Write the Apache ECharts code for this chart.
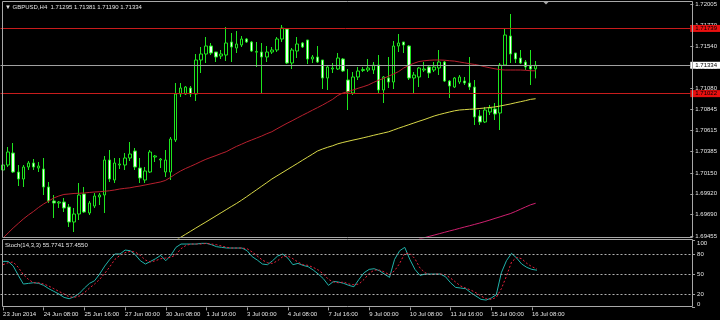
<!DOCTYPE html>
<html><head><meta charset="utf-8">
<script src="https://cdn.jsdelivr.net/npm/echarts@6/dist/echarts.min.js"></script>
<style>html,body{margin:0;padding:0;background:#000;}#c{width:720px;height:320px;}</style>
</head><body><div id="c"></div>
<script>
const symbolName = 'GBPUSD,H4';
const xTickLabels = ['23 Jun 2014','24 Jun 08:00','25 Jun 16:00','27 Jun 00:00','30 Jun 08:00','1 Jul 16:00','3 Jul 00:00','4 Jul 08:00','7 Jul 16:00','9 Jul 00:00','10 Jul 08:00','11 Jul 16:00','15 Jul 00:00','16 Jul 08:00'];
const opens = [1.70182,1.70237,1.70369,1.70160,1.70083,1.70215,1.70259,1.70204,1.70193,1.69995,
1.69841,1.69819,1.69830,1.69775,1.69610,1.69698,1.69918,1.69709,1.69786,1.69885,
1.69907,1.70292,1.70072,1.70237,1.70237,1.70314,1.70391,1.70204,1.70072,1.70160,
1.70325,1.70292,1.70160,1.70160,1.70512,1.71018,1.71018,1.71084,1.71018,1.71392,
1.71458,1.71546,1.71480,1.71436,1.71447,1.71590,1.71524,1.71557,1.71623,1.71590,
1.71478,1.71480,1.71425,1.71480,1.71502,1.71623,1.71733,1.71359,1.71491,1.71579,
1.71612,1.71403,1.71425,1.71392,1.71194,1.71293,1.71293,1.71403,1.71172,1.71029,
1.71205,1.71276,1.71282,1.71282,1.71337,1.71062,1.71194,1.71150,1.71546,1.71590,
1.71546,1.71194,1.71205,1.71282,1.71315,1.71282,1.71304,1.71370,1.71161,1.71095,
1.71150,1.71161,1.71139,1.71095,1.70776,1.70710,1.70820,1.70853,1.70809,1.71337,
1.71656,1.71469,1.71414,1.71370,1.71326,1.71295];
const highs = [1.70281,1.70435,1.70479,1.70237,1.70237,1.70281,1.70303,1.70270,1.70314,1.70050,
1.69907,1.69841,1.69874,1.69808,1.69764,1.70039,1.69995,1.69841,1.69929,1.69929,
1.70336,1.70402,1.70314,1.70314,1.70369,1.70490,1.70424,1.70314,1.70215,1.70402,
1.70347,1.70314,1.70402,1.70545,1.71139,1.71139,1.71106,1.71106,1.71458,1.71535,
1.71645,1.71579,1.71480,1.71502,1.71755,1.71689,1.71711,1.71656,1.71634,1.71601,
1.71590,1.71579,1.71546,1.71535,1.71645,1.71777,1.71744,1.71524,1.71645,1.71590,
1.71612,1.71447,1.71546,1.71392,1.71337,1.71359,1.71469,1.71414,1.71293,1.71260,
1.71315,1.71315,1.71403,1.71370,1.71447,1.71216,1.71425,1.71601,1.71678,1.71590,
1.71557,1.71260,1.71315,1.71370,1.71337,1.71370,1.71502,1.71381,1.71172,1.71205,
1.71227,1.71205,1.71425,1.71172,1.70842,1.70875,1.70897,1.70919,1.71359,1.71733,
1.71898,1.71469,1.71502,1.71392,1.71502,1.71381];
const lows = [1.70160,1.70215,1.70149,1.70006,1.69995,1.70182,1.70182,1.70160,1.69907,1.69819,
1.69654,1.69764,1.69720,1.69555,1.69500,1.69632,1.69709,1.69687,1.69764,1.69797,
1.69709,1.70050,1.70039,1.70193,1.70182,1.70281,1.70182,1.70039,1.70039,1.70149,
1.70270,1.70204,1.70105,1.70072,1.70490,1.70985,1.71007,1.70985,1.70941,1.71249,
1.71359,1.71447,1.71370,1.71403,1.71381,1.71370,1.71469,1.71535,1.71579,1.71480,
1.71315,1.71018,1.71370,1.71458,1.71480,1.71590,1.71348,1.71293,1.71414,1.71524,
1.71348,1.71359,1.71359,1.71073,1.71062,1.71249,1.71282,1.71260,1.70842,1.71007,
1.71172,1.71260,1.71260,1.71238,1.71029,1.70919,1.71084,1.71073,1.71480,1.71469,
1.71172,1.71029,1.71095,1.71260,1.71194,1.71260,1.71227,1.71150,1.70974,1.71084,
1.71128,1.71117,1.71062,1.70677,1.70677,1.70699,1.70787,1.70732,1.70622,1.71326,
1.71359,1.71359,1.71348,1.71282,1.71117,1.71190];
const closes = [1.70237,1.70380,1.70160,1.70083,1.70215,1.70259,1.70215,1.70226,1.69995,1.69841,
1.69819,1.69830,1.69764,1.69610,1.69698,1.69907,1.69720,1.69819,1.69896,1.69907,
1.70292,1.70083,1.70259,1.70248,1.70314,1.70358,1.70215,1.70094,1.70171,1.70380,
1.70336,1.70303,1.70292,1.70523,1.71018,1.71084,1.71095,1.71018,1.71392,1.71458,
1.71546,1.71469,1.71425,1.71458,1.71579,1.71535,1.71568,1.71623,1.71590,1.71491,
1.71486,1.71425,1.71480,1.71502,1.71623,1.71744,1.71359,1.71502,1.71568,1.71535,
1.71403,1.71425,1.71370,1.71194,1.71315,1.71304,1.71414,1.71271,1.71040,1.71205,
1.71271,1.71287,1.71304,1.71337,1.71062,1.71205,1.71150,1.71546,1.71579,1.71557,
1.71194,1.71227,1.71304,1.71293,1.71249,1.71315,1.71370,1.71161,1.71106,1.71194,
1.71205,1.71139,1.71095,1.70765,1.70710,1.70842,1.70864,1.70798,1.71337,1.71667,
1.71458,1.71403,1.71359,1.71315,1.71293,1.71334];
const maRed = [1.69434,1.69489,1.69544,1.69594,1.69643,1.69687,1.69726,1.69770,1.69808,1.69841,
1.69874,1.69896,1.69913,1.69918,1.69924,1.69926,1.69929,1.69935,1.69940,1.69943,
1.69948,1.69954,1.69962,1.69973,1.69980,1.69986,1.69997,1.70006,1.70017,1.70028,
1.70039,1.70050,1.70067,1.70100,1.70138,1.70171,1.70199,1.70223,1.70248,1.70275,
1.70300,1.70321,1.70341,1.70363,1.70383,1.70413,1.70441,1.70465,1.70490,1.70512,
1.70534,1.70556,1.70581,1.70603,1.70635,1.70666,1.70696,1.70724,1.70754,1.70783,
1.70811,1.70840,1.70868,1.70897,1.70928,1.70960,1.71002,1.71029,1.71043,1.71062,
1.71081,1.71098,1.71117,1.71144,1.71169,1.71188,1.71214,1.71238,1.71265,1.71304,
1.71332,1.71356,1.71375,1.71383,1.71389,1.71392,1.71392,1.71390,1.71384,1.71380,
1.71370,1.71361,1.71351,1.71343,1.71332,1.71318,1.71306,1.71295,1.71286,1.71282,
1.71282,1.71282,1.71282,1.71279,1.71274,1.71273];
const maYellowStart = 34;
const maYellow = [1.69407,1.69441,1.69475,1.69509,1.69543,1.69577,1.69610,1.69644,1.69678,1.69712,
1.69746,1.69780,1.69813,1.69849,1.69887,1.69926,1.69965,1.70004,1.70043,1.70083,
1.70117,1.70151,1.70185,1.70219,1.70253,1.70288,1.70322,1.70356,1.70391,1.70413,
1.70432,1.70449,1.70470,1.70485,1.70498,1.70511,1.70523,1.70536,1.70549,1.70563,
1.70576,1.70589,1.70602,1.70622,1.70642,1.70661,1.70680,1.70699,1.70718,1.70736,
1.70756,1.70776,1.70792,1.70806,1.70820,1.70833,1.70842,1.70846,1.70850,1.70853,
1.70859,1.70864,1.70870,1.70876,1.70886,1.70897,1.70908,1.70921,1.70933,1.70945,
1.70959,1.70966];
const maMagentaStart = 82;
const maMagenta = [1.69423,1.69436,1.69452,1.69466,1.69481,1.69496,1.69511,1.69525,1.69540,1.69555,
1.69569,1.69584,1.69599,1.69615,1.69632,1.69650,1.69667,1.69685,1.69702,1.69725,
1.69750,1.69775,1.69799,1.69816];
const stochK = [69,69,62,48,35,36,37,36,33,28,
24,20,15,13,16,21,29,36,40,50,
62,72,80,80,86,85,79,70,65,69,
73,78,70,78,90,95,95,95,95,96,
96,94,91,90,89,89,89,89,85,76,
71,65,64,70,77,80,74,64,66,63,
61,56,50,43,33,39,38,36,33,31,
42,52,57,58,55,50,45,72,85,90,
72,57,48,50,50,50,50,46,37,30,
29,28,22,17,12,11,14,19,52,70,
81,74,65,60,57,55.7741];
const stochD = [64,67,68,60,49,42,37,37,35,32,
28,24,20,16,15,17,22,29,35,42,
51,61,72,78,82,84,83,78,71,68,
70,73,74,75,79,88,93,95,95,95,
96,95,94,92,90,89,89,89,88,83,
77,71,67,66,70,76,77,73,68,64,
63,60,56,50,42,38,37,38,35,34,
35,42,51,56,56,53,49,55,66,81,
81,73,59,52,49,50,50,49,44,38,
32,29,26,22,17,13,12,15,28,47,
68,75,73,66,61,57.455];
const levelLines = [1.71739, 1.71022];
const priceTicks = [1.72005,1.71770,1.71540,1.71310,1.71080,1.70845,1.70615,1.70385,1.70150,1.69920,1.69690,1.69455];
const stochTicks = [0,20,50,80,100];
const stochLevels = [20,50,80];
const stochParams = '14,3,3';

const slots = 136;
const cats = Array.from({length: slots}, (_, i) => String(i));
const candleData = opens.map((o, i) => [o, closes[i], lows[i], highs[i]]);
const pad = (start, arr) => new Array(start).fill(null).concat(arr);
const FONT = 'Liberation Sans';
const TXT = '#e4e4e4';
const GREEN = '#1ee61e';
const last = opens.length - 1;
const tickEvery = 8;
const showTick = (idx) => idx % tickEvery === 0 && idx / tickEvery < xTickLabels.length;

const chart = echarts.init(document.getElementById('c'), null, {renderer: 'canvas'});
const option = {
  animation: false,
  backgroundColor: '#000',
  grid: [
    {left: 0.5, width: 691.56, top: 2, height: 236},
    {left: 0.5, width: 691.56, top: 240.7, height: 66.7}
  ],
  xAxis: [
    {type: 'category', gridIndex: 0, data: cats, boundaryGap: true, show: false},
    {type: 'category', gridIndex: 1, data: cats, boundaryGap: true,
     axisLine: {show: false},
     axisTick: {show: true, alignWithLabel: true, interval: (i) => showTick(i), length: 3, lineStyle: {color: '#a0a0a0'}},
     axisLabel: {interval: (i) => showTick(i), formatter: (v, i) => showTick(i) ? xTickLabels[i / tickEvery] : '',
       align: 'left', color: TXT, fontSize: 6, fontFamily: FONT, margin: 4},
     splitLine: {show: false}}
  ],
  yAxis: [
    {type: 'value', gridIndex: 0, position: 'right', min: 1.69434, max: 1.72030, scale: true,
     axisLine: {show: false}, splitLine: {show: false},
     axisTick: {show: true, length: 3, customValues: priceTicks, lineStyle: {color: '#a0a0a0'}},
     axisLabel: {customValues: priceTicks, formatter: (v) => v.toFixed(5), color: TXT, fontSize: 6, fontFamily: FONT, margin: 5}},
    {type: 'value', gridIndex: 1, position: 'right', min: 0, max: 100,
     axisLine: {show: false}, splitLine: {show: false},
     axisTick: {show: true, length: 3, customValues: stochTicks, lineStyle: {color: '#a0a0a0'}},
     axisLabel: {customValues: stochTicks, lineHeight: 6,
       formatter: (v) => v === 100 ? ' \n100' : (v === 0 ? '0\n ' : String(v)),
       color: TXT, fontSize: 6, fontFamily: FONT, margin: 5}}
  ],
  graphic: [
    {type: 'rect', silent: true, z: 50, shape: {x: 2.5, y: 1.5, width: 690, height: 236}, style: {fill: 'none', stroke: '#a8a8a8', lineWidth: 1}},
    {type: 'rect', silent: true, z: 50, shape: {x: 2.5, y: 239.5, width: 690, height: 67}, style: {fill: 'none', stroke: '#a8a8a8', lineWidth: 1}},
    {type: 'polygon', silent: true, z: 50, shape: {points: [[543, 1.5], [549, 1.5], [546, 4.5]]}, style: {fill: '#a8a8a8'}},
    {type: 'text', silent: true, z: 60, x: 5, y: 7,
     style: {text: '\u25BC ' + symbolName + '  ' + [opens[last], highs[last], lows[last], closes[last]].map(v => v.toFixed(5)).join(' '),
       fill: TXT, font: '6px "' + FONT + '"', verticalAlign: 'middle'}},
    {type: 'text', silent: true, z: 60, x: 5, y: 245.5,
     style: {text: 'Stoch(' + stochParams + ') ' + stochK[last].toFixed(4) + ' ' + stochD[last].toFixed(4),
       fill: TXT, font: '6px "' + FONT + '"', verticalAlign: 'middle'}}
  ],
  series: [
    {type: 'candlestick', xAxisIndex: 0, yAxisIndex: 0, data: candleData, barWidth: 3,
     itemStyle: {color: '#000', color0: '#f4fff4', borderColor: GREEN, borderColor0: GREEN, borderColorDoji: GREEN, borderWidth: 1},
     markLine: {silent: true, animation: false, symbol: ['none', 'none'], precision: 5,
       data: [
         ...levelLines.map(v => ({yAxis: v, lineStyle: {color: '#c81c1c', type: 'solid', width: 1},
            label: {show: true, position: 'end', distance: 0, formatter: (p) => Number(p.value).toFixed(5),
              color: '#000', backgroundColor: '#e81010', padding: [1, 5, 0, 5], fontSize: 6, lineHeight: 6, fontFamily: FONT}})),
         {yAxis: closes[last], lineStyle: {color: '#a0a0a0', type: 'solid', width: 1},
            label: {show: true, position: 'end', distance: 0, formatter: (p) => Number(p.value).toFixed(5),
              color: '#000', backgroundColor: '#ffffff', padding: [1, 5, 0, 5], fontSize: 6, lineHeight: 6, fontFamily: FONT}}
       ]}},
    {type: 'line', xAxisIndex: 0, yAxisIndex: 0, data: maRed, symbol: 'none', lineStyle: {color: '#b8202e', width: 1}},
    {type: 'line', xAxisIndex: 0, yAxisIndex: 0, data: pad(maYellowStart, maYellow), symbol: 'none', lineStyle: {color: '#d8d848', width: 1}},
    {type: 'line', xAxisIndex: 0, yAxisIndex: 0, data: pad(maMagentaStart, maMagenta), symbol: 'none', lineStyle: {color: '#d02070', width: 1}},
    {type: 'line', xAxisIndex: 1, yAxisIndex: 1, data: stochK, symbol: 'none', lineStyle: {color: '#20b2aa', width: 1},
     markLine: {silent: true, animation: false, symbol: ['none', 'none'], label: {show: false},
       lineStyle: {color: '#b0b0b0', type: [2, 2], width: 1},
       data: stochLevels.map(v => ({yAxis: v}))}},
    {type: 'line', xAxisIndex: 1, yAxisIndex: 1, data: stochD, symbol: 'none', lineStyle: {color: '#e8203c', type: [2, 2], width: 1}}
  ]
};
chart.setOption(option);
</script>
</body></html>
